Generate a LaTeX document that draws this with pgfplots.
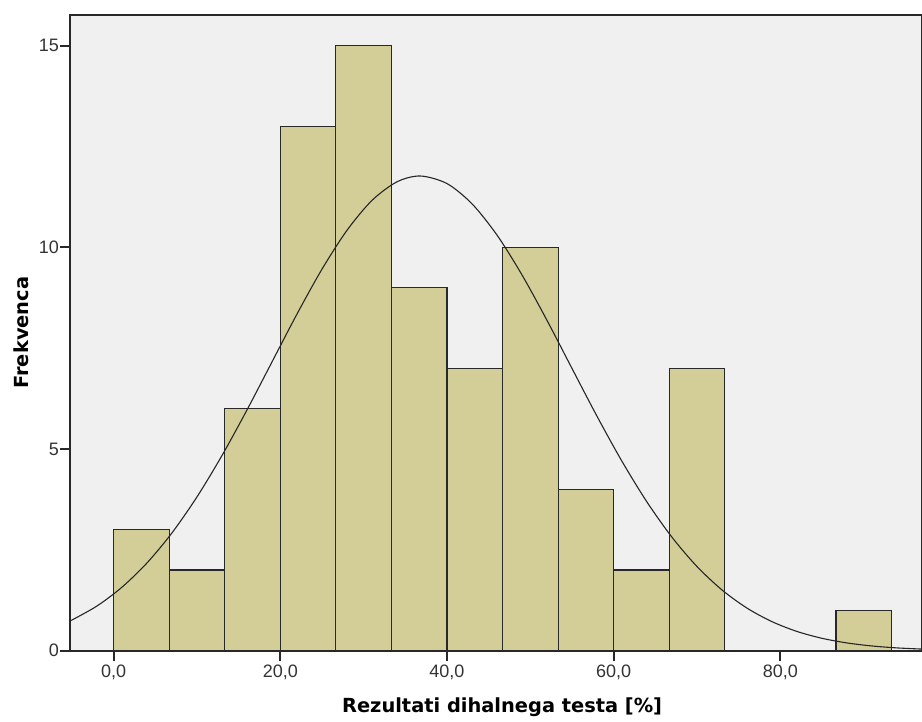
\documentclass[border=0pt]{standalone}
\usepackage{fontspec}
\setmainfont{Liberation Sans}
\newfontfamily\labelfont{DejaVu Sans}
\usepackage{pgfplots}
\pgfplotsset{compat=1.18}

\definecolor{barfill}{RGB}{211,206,151}
\definecolor{plotbg}{RGB}{240,240,240}
\definecolor{edge}{RGB}{40,40,40}

\begin{document}
\begin{tikzpicture}[x=1pt,y=1pt]
% page frame: 461pt x 361pt, axis box 35.15pt from the left edge
\useasboundingbox (-35.15,-35.65) rectangle (425.85,325.35);
\begin{axis}[
  scale only axis,
  width=425.85pt, height=318pt,
  at={(0,0)}, anchor=south west,
  xmin=-5.2, xmax=97.0,
  ymin=0, ymax=15.77,
  axis background/.style={fill=plotbg},
  axis line style={draw=edge, line width=0.9pt},
  xtick={0,20,40,60,80},
  ytick={0,5,10,15},
  xtick pos=bottom, ytick pos=left,
  tick align=outside,
  major tick length=5pt,
  tick style={draw=edge, line width=0.9pt},
  /pgf/number format/.cd, use comma, fixed, fixed zerofill, precision=1, assume math mode=true,
  /pgfplots/.cd,
  yticklabel={\pgfmathprintnumber[fixed,precision=0,fixed zerofill=false]{\tick}},
  ticklabel style={font=\fontsize{9}{11}\selectfont, text=black!80},
  yticklabel style={inner sep=0.5pt},
  xticklabel style={inner sep=2pt},
  xlabel={Rezultati dihalnega testa [\%]},
  ylabel={Frekvenca},
  label style={font=\labelfont\fontsize{9.7}{12}\selectfont\bfseries},
  xlabel style={at={(axis description cs:0.507,-0.089)}, anchor=center},
  ylabel style={at={(axis description cs:-0.0575,0.5)}, anchor=center, rotate=0},
  clip=true,
]
% histogram counts per bin of width 6.667
\addplot[ybar interval, fill=barfill, draw=edge, line width=0.6pt] coordinates {
  (0,3) (6.667,2) (13.333,6) (20,13) (26.667,15) (33.333,9) (40,7)
  (46.667,10) (53.333,4) (60,2) (66.667,7) (73.333,0) (80,0) (86.667,1) (93.333,1)
};
% fitted normal curve
\addplot[smooth, draw=black!85, line width=0.55pt] coordinates {
  (-5.2,0.739) (-2,1.108) (1,1.575) (4,2.175) (7,2.921) (10,3.813) (13,4.839)
  (16,5.969) (19,7.159) (22,8.347) (25,9.460) (28,10.423) (31,11.165) (34,11.626)
  (36.8,11.77) (40,11.582) (43,11.081) (46,10.306) (49,9.318) (52,8.191) (55,6.999)
  (58,5.814) (61,4.695) (64,3.686) (67,2.813) (70,2.087) (73,1.506) (76,1.056)
  (79,0.720) (82,0.477) (85,0.307) (88,0.192) (91,0.117) (94,0.069) (97,0.040)
};
\end{axis}
\end{tikzpicture}
\end{document}
